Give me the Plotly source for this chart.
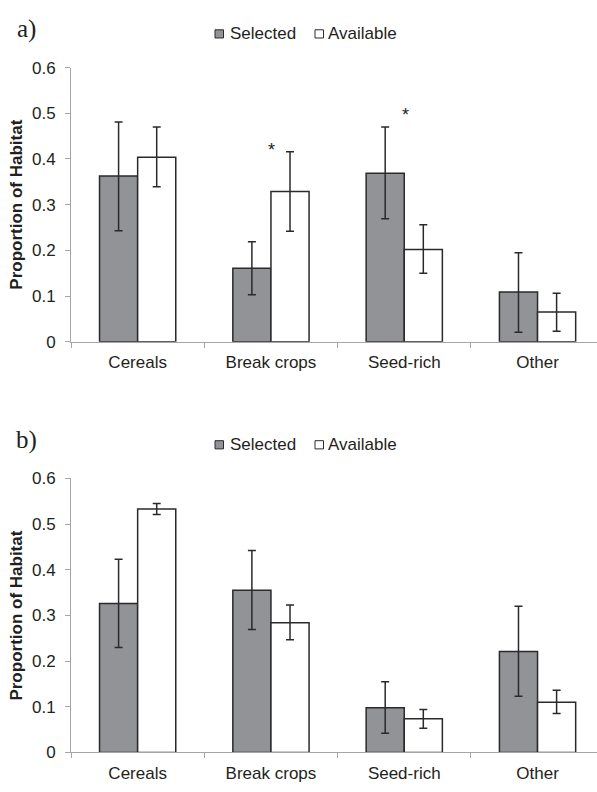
import plotly.graph_objects as go

categories = ["Cereals", "Break crops", "Seed-rich", "Other"]

# Panel a)
a_selected = [0.363, 0.161, 0.369, 0.109]
a_selected_hi = [0.481, 0.219, 0.470, 0.195]
a_selected_lo = [0.243, 0.103, 0.269, 0.021]
a_available = [0.404, 0.329, 0.202, 0.065]
a_available_hi = [0.470, 0.416, 0.256, 0.106]
a_available_lo = [0.339, 0.242, 0.150, 0.023]
a_sig_cats = ["Break crops", "Seed-rich"]
a_sig_y = [0.427, 0.502]

# Panel b)
b_selected = [0.326, 0.355, 0.098, 0.221]
b_selected_hi = [0.423, 0.442, 0.155, 0.320]
b_selected_lo = [0.230, 0.269, 0.042, 0.123]
b_available = [0.533, 0.284, 0.074, 0.110]
b_available_hi = [0.545, 0.323, 0.094, 0.136]
b_available_lo = [0.521, 0.247, 0.053, 0.085]

y_ticks = [0, 0.1, 0.2, 0.3, 0.4, 0.5, 0.6]
y_ticktext = ["0", "0.1", "0.2", "0.3", "0.4", "0.5", "0.6"]
series_names = ["Selected", "Available"]

W, H = 597, 792
SEL_FILL = "#929396"
EDGE = "#2a2a2a"
AXIS = "#a6a6a6"
TXT = "#231f20"
FONT = "Liberation Sans, Arial, sans-serif"
FILLS = [SEL_FILL, "#ffffff"]


def err(vals, hi, lo):
    return dict(type="data", symmetric=False,
                array=[h - v for v, h in zip(vals, hi)],
                arrayminus=[v - l for v, l in zip(vals, lo)],
                color=EDGE, thickness=1.5, width=4)


fig = go.Figure()

panels = [
    ("x", "y", a_selected, a_selected_hi, a_selected_lo,
     a_available, a_available_hi, a_available_lo),
    ("x2", "y2", b_selected, b_selected_hi, b_selected_lo,
     b_available, b_available_hi, b_available_lo),
]
for xa, ya, s, sh, sl, av, ah, al in panels:
    fig.add_trace(go.Bar(x=categories, y=s, name=series_names[0], xaxis=xa, yaxis=ya,
                         marker=dict(color=FILLS[0], line=dict(color=EDGE, width=1.5)),
                         error_y=err(s, sh, sl), showlegend=False))
    fig.add_trace(go.Bar(x=categories, y=av, name=series_names[1], xaxis=xa, yaxis=ya,
                         marker=dict(color=FILLS[1], line=dict(color=EDGE, width=1.5)),
                         error_y=err(av, ah, al), showlegend=False))

xdom = [71 / W, 1.0]
ydom_a = [1 - 341 / H, 1 - 60 / H]
ydom_b = [1 - 761.7 / H, 1 - 481 / H]

xaxis_common = dict(domain=xdom, type="category", categoryorder="array",
                    categoryarray=categories, range=[-0.5, 3.446],
                    showline=True, linecolor=AXIS, linewidth=1,
                    ticks="outside", tickson="boundaries", ticklen=5,
                    tickcolor=AXIS, tickwidth=1, ticklabelstandoff=5,
                    tickfont=dict(family=FONT, size=17, color=TXT),
                    showgrid=False, zeroline=False, fixedrange=True)
yaxis_common = dict(range=[0, 0.6], tickvals=y_ticks, ticktext=y_ticktext,
                    showline=True, linecolor=AXIS, linewidth=1,
                    ticks="outside", ticklen=5, tickcolor=AXIS, tickwidth=1,
                    ticklabelstandoff=6,
                    tickfont=dict(family=FONT, size=17, color=TXT),
                    showgrid=False, zeroline=False, fixedrange=True)

annotations = []
shapes = []
for panel_off, label in [(0, "a)"), (421, "b)")]:
    annotations.append(dict(text=label, xref="paper", yref="paper",
                            x=26 / W, y=1 - (20.5 + panel_off) / H, showarrow=False,
                            xanchor="center", yanchor="middle",
                            font=dict(family="Liberation Serif, serif", size=25, color=TXT)))
    annotations.append(dict(text="<b>Proportion of Habitat</b>", xref="paper", yref="paper",
                            x=17 / W, y=1 - (200.5 + panel_off) / H, showarrow=False, textangle=-90,
                            xanchor="center", yanchor="middle",
                            font=dict(family=FONT, size=17, color=TXT)))
    for name, fill, sx, tx in zip(series_names, FILLS, [215, 315], [228, 326]):
        yc = 25.5 + panel_off
        shapes.append(dict(type="rect", xref="paper", yref="paper",
                           x0=sx / W, x1=(sx + 8.5) / W,
                           y0=1 - (yc + 4.2) / H, y1=1 - (yc - 4.2) / H,
                           fillcolor=fill, line=dict(color=EDGE, width=1)))
        annotations.append(dict(text=name, xref="paper", yref="paper",
                                x=tx / W, y=1 - yc / H, showarrow=False,
                                xanchor="left", yanchor="middle",
                                font=dict(family=FONT, size=17, color=TXT)))
for c, yv in zip(a_sig_cats, a_sig_y):
    annotations.append(dict(text="*", xref="x", yref="y", x=c, y=yv, showarrow=False,
                            xanchor="center", yanchor="middle", yshift=-3, xshift=1,
                            font=dict(family=FONT, size=18, color=TXT)))

fig.update_layout(
    width=W, height=H, margin=dict(l=0, r=0, t=0, b=0),
    paper_bgcolor="white", plot_bgcolor="white",
    barmode="group", bargap=0.428, bargroupgap=0,
    xaxis=dict(xaxis_common, anchor="y"),
    yaxis=dict(yaxis_common, domain=ydom_a, anchor="x"),
    xaxis2=dict(xaxis_common, anchor="y2"),
    yaxis2=dict(yaxis_common, domain=ydom_b, anchor="x2"),
    annotations=annotations,
    shapes=shapes,
    showlegend=False,
)

fig.write_html("out.html", config={"displayModeBar": False},
               post_script="document.body.style.margin='0';document.body.style.overflow='hidden';")
